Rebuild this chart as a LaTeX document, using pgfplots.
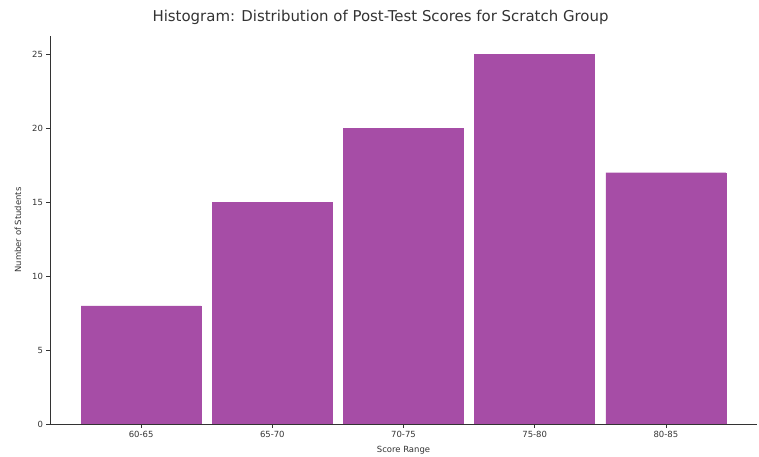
\documentclass[border=0pt]{standalone}
\usepackage{pgfplots}
\pgfplotsset{compat=1.18}
\usepackage{fontspec}
\setmainfont{DejaVu Sans}
\definecolor{barc}{HTML}{A64DA6}
\definecolor{axc}{HTML}{333333}
\begin{document}
\begin{tikzpicture}
\useasboundingbox (-50bp,-33bp) rectangle (709bp,424bp);
\begin{axis}[
  scale only axis,
  width=707bp, height=388bp,
  xmin=-0.695, xmax=4.695,
  ymin=0, ymax=26.25,
  axis x line*=bottom, axis y line*=left,
  axis line style={axc, line width=0.8pt},
  xtick={0,1,2,3,4},
  xticklabels={60-65,65-70,70-75,75-80,80-85},
  ytick={0,5,10,15,20,25},
  tick style={axc, line width=0.6pt},
  tick align=outside,
  major tick length=3.5bp,
  ticklabel style={font=\fontsize{8.5}{9}\selectfont, text=axc},
  /pgf/number format/assume math mode=true,
  xlabel={Score Range},
  ylabel={Number of Students},
  label style={font=\fontsize{8.5}{10}\selectfont, text=axc},
  xlabel style={yshift=-2bp},
  ylabel style={yshift=4bp},
  title={Histogram: Distribution of Post-Test Scores for Scratch Group},
  title style={font=\fontsize{15}{17}\selectfont, text=axc, yshift=2bp, xshift=-23bp},
  ybar,
]
\addplot[fill=barc, draw=barc, bar width=120bp] coordinates {(0,8) (1,15) (2,20) (3,25) (4,17)};
\end{axis}
\end{tikzpicture}
\end{document}
